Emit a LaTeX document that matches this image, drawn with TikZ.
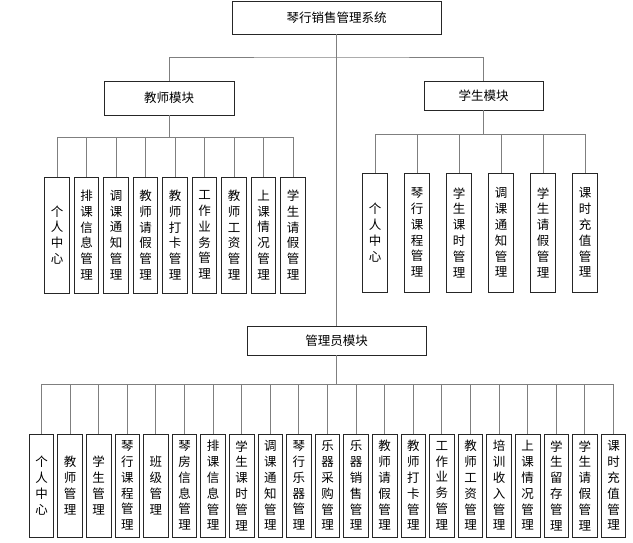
\documentclass[tikz,border=0pt]{standalone}
\usepackage{fontspec}
\setmainfont{Noto Sans CJK SC}
\usepackage{tikz}
\definecolor{wire}{HTML}{7F7F7F}
\definecolor{edge}{HTML}{262626}

\begin{document}
\begin{tikzpicture}[
  x=1pt, y=-1pt,
  font=\fontsize{12.5}{15.8}\selectfont,
  box/.style={draw=edge, line width=0.9pt, inner sep=0pt, fill=white},
  leaf/.style={box, align=center, text width=20pt, minimum width=24.5pt},
  link/.style={draw=wire, line width=1pt}
]
\useasboundingbox (0,0) rectangle (633,542);
% top level and the three modules
\node[box, minimum width=209pt, minimum height=33pt] (root)    at (336.5,17.5) {琴行销售管理系统};
\node[box, minimum width=130pt, minimum height=34pt] (teacher) at (169,98)     {教师模块};
\node[box, minimum width=119pt, minimum height=29pt] (student) at (483.5,95.5) {学生模块};
\node[box, minimum width=179pt, minimum height=29pt] (admin)   at (336.5,340.5) {管理员模块};
\coordinate (bus) at (336.5,57);

% teacher functions
\foreach \txt [count=\i] in {个\\人\\中\\心, 排\\课\\信\\息\\管\\理, 调\\课\\通\\知\\管\\理,
  教\\师\\请\\假\\管\\理, 教\\师\\打\\卡\\管\\理, 工\\作\\业\\务\\管\\理, 教\\师\\工\\资\\管\\理,
  上\\课\\情\\况\\管\\理, 学\\生\\请\\假\\管\\理}
  \node[leaf, minimum height=116pt] (t\i) at ({57+(\i-1)*29.5},235) {\txt};

% student functions
\foreach \txt [count=\i] in {个\\人\\中\\心, 琴\\行\\课\\程\\管\\理, 学\\生\\课\\时\\管\\理,
  调\\课\\通\\知\\管\\理, 学\\生\\请\\假\\管\\理, 课\\时\\充\\值\\管\\理}
  \node[leaf, minimum height=119pt] (s\i) at ({375+(\i-1)*42},232.5) {\txt};

% admin functions
\foreach \txt [count=\i] in {个\\人\\中\\心, 教\\师\\管\\理, 学\\生\\管\\理, 琴\\行\\课\\程\\管\\理,
  班\\级\\管\\理, 琴\\房\\信\\息\\管\\理, 排\\课\\信\\息\\管\\理, 学\\生\\课\\时\\管\\理,
  调\\课\\通\\知\\管\\理, 琴\\行\\乐\\器\\管\\理, 乐\\器\\采\\购\\管\\理, 乐\\器\\销\\售\\管\\理,
  教\\师\\请\\假\\管\\理, 教\\师\\打\\卡\\管\\理, 工\\作\\业\\务\\管\\理, 教\\师\\工\\资\\管\\理,
  培\\训\\收\\入\\管\\理, 上\\课\\情\\况\\管\\理, 学\\生\\留\\存\\管\\理, 学\\生\\请\\假\\管\\理,
  课\\时\\充\\值\\管\\理}
  \node[leaf, minimum height=103pt] (a\i) at ({41.5+(\i-1)*28.6},485.5) {\txt};

\draw[link] (root.south) -- (admin.north);
\draw[link] (teacher.north) |- (bus) -| (student.north);
\foreach \i in {1,...,9} \draw[link] (teacher.south) -- ++(0,22) -| (t\i.north);
\foreach \i in {1,...,6} \draw[link] (student.south) -- ++(0,24.5) -| (s\i.north);
\foreach \i in {1,...,21} \draw[link] (admin.south) -- ++(0,29.5) -| (a\i.north);
\end{tikzpicture}
\end{document}
